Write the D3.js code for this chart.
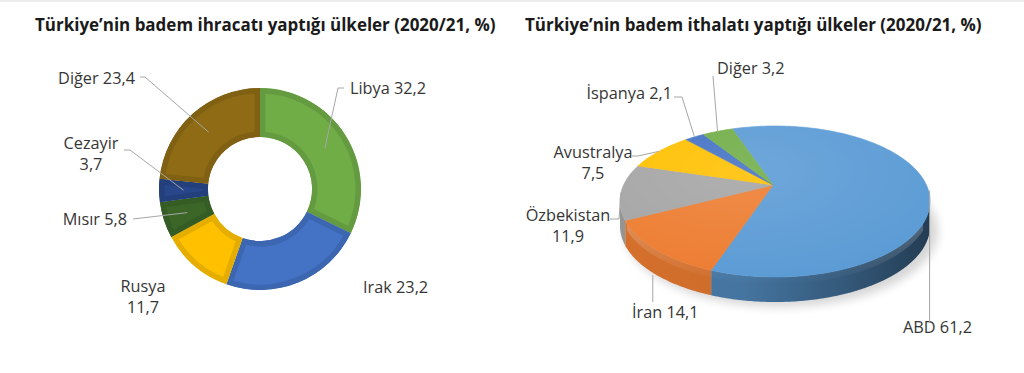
<!DOCTYPE html>
<html><head><meta charset="utf-8">
<script src="https://cdn.jsdelivr.net/npm/d3@7"></script>
<style>body{margin:0;background:#fff} svg{display:block}</style>
</head><body>
<svg id="c" width="1024" height="373"></svg>
<script>
// ---------- data ----------
const titles = ["Türkiye\u2019nin badem ihracatı yaptığı ülkeler (2020/21, %)",
                "Türkiye\u2019nin badem ithalatı yaptığı ülkeler (2020/21, %)"];
const exportCategories = ["Libya","Irak","Rusya","Mısır","Cezayir","Diğer"];
const exportValues     = [32.2, 23.2, 11.7, 5.8, 3.7, 23.4];
const exportColors     = ["#70AD47","#4472C4","#FFC000","#3B6628","#27478A","#8E6B14"];
const importCategories = ["ABD","İran","Özbekistan","Avustralya","İspanya","Diğer"];
const importValues     = [61.2, 14.1, 11.9, 7.5, 2.1, 3.2];
const importColors     = ["#5B9BD5","#ED7D31","#A5A5A5","#FFC000","#4472C4","#70AD47"];

const fmt = v => String(v).replace(".", ",");
const svg = d3.select("#c");
const FONT = "'Open Sans', sans-serif";
const TEXT = "#363636", LEAD = "#A6A6A6";

svg.append("rect").attr("x",0).attr("y",0).attr("width",1024).attr("height",2).attr("fill","#ececec");

function fitSize(str, weight, target){
  const t = svg.append("text").attr("font-family",FONT).attr("font-weight",weight).attr("font-size",20).text(str);
  const w = t.node().getComputedTextLength(); t.remove();
  return 20*target/w;
}
const titleSize = Math.min(fitSize(titles[0], "bold", 462), fitSize(titles[1], "bold", 457));
const labelSize = fitSize("Diğer 23,4", "normal", 77);

[[35,titles[0]],[525,titles[1]]].forEach(([x,t])=>{
  svg.append("text").attr("x",x).attr("y",31).attr("font-family",FONT).attr("font-weight","bold")
    .attr("font-size",titleSize).attr("fill","#1a1a1a").text(t);
});

function label(lines, x, y, anchor){
  const t = svg.append("text").attr("font-family",FONT).attr("font-size",labelSize)
    .attr("fill",TEXT).attr("text-anchor",anchor).attr("dominant-baseline","central");
  lines.forEach((l,i)=>t.append("tspan").attr("x",x).attr("y",y+i*21).text(l));
}
function leader(pts){
  svg.append("path").attr("d", d3.line()(pts)).attr("fill","none").attr("stroke",LEAD).attr("stroke-width",1);
}

// ---------- left: donut ----------
const D = {cx:260, cy:189, r0:52, r1:101};
const defs = svg.append("defs");
const pieL = d3.pie().sort(null).value(d=>d)(exportValues);
const arcL = d3.arc().innerRadius(D.r0).outerRadius(D.r1);
const gL = svg.append("g").attr("transform",`translate(${D.cx},${D.cy})`);
pieL.forEach((p,i)=>{
  defs.append("clipPath").attr("id","cl"+i).append("path").attr("d",arcL(p));
  gL.append("path").attr("d",arcL(p)).attr("fill",exportColors[i])
    .attr("stroke",d3.color(exportColors[i]).darker(0.3)).attr("stroke-width",11)
    .attr("clip-path",`url(#cl${i})`);
});
const cen = i => { const c = arcL.centroid(pieL[i]); return [c[0]+D.cx, c[1]+D.cy]; };
const leftLayout = [
  {x:350, y:88,  a:"start",  two:false, lead:[[344,88],[338,88]]},
  {x:363, y:287, a:"start",  two:false, lead:null},
  {x:143, y:286, a:"middle", two:true,  lead:null},
  {x:127, y:219, a:"end",    two:false, lead:[[133,219]]},
  {x:91,  y:143, a:"middle", two:true,  lead:[[124,150],[130,150]]},
  {x:135, y:78,  a:"end",    two:false, lead:[[140,77],[145,77]]}
];
leftLayout.forEach((L,i)=>{
  const lines = L.two ? [exportCategories[i], fmt(exportValues[i])] : [exportCategories[i]+" "+fmt(exportValues[i])];
  label(lines, L.x, L.y, L.a);
  if (L.lead) leader([...L.lead, cen(i)]);
});

// ---------- right: 3D pie ----------
const P = {cx:775, cy:201, rx:155, ryT:75, ryB:76, depth:25, vx:-2, vy:-16, rot:-16*Math.PI/180};
function rimP(p, dy=0){
  const c = Math.cos(p);
  return [P.cx + P.rx*Math.sin(p), P.cy - (c>0?P.ryT:P.ryB)*c + dy];
}
function ptsP(p0,p1,dy){
  const n = Math.max(2, Math.ceil(Math.abs(p1-p0)/0.015));
  return d3.range(n+1).map(k=>rimP(p0+(p1-p0)*k/n, dy));
}
const pieR = d3.pie().sort(null).value(d=>d)(importValues);
const vtx = [P.cx+P.vx, P.cy+P.vy];

const fl = defs.append("filter").attr("id","blur").attr("x","-20%").attr("y","-20%").attr("width","140%").attr("height","140%");
fl.append("feGaussianBlur").attr("stdDeviation",5);
svg.append("ellipse").attr("cx",P.cx+6).attr("cy",P.cy+P.depth+5).attr("rx",P.rx+2).attr("ry",P.ryB)
  .attr("fill","#000").attr("opacity",0.16).attr("filter","url(#blur)");

const lo = Math.PI/2, hi = 3*Math.PI/2;
const gS = svg.append("g");
pieR.forEach((s,i)=>{
  const p0 = Math.max(s.startAngle+P.rot, lo), p1 = Math.min(s.endAngle+P.rot, hi);
  if (p1 <= p0) return;
  const pts = ptsP(p0,p1,0).concat(ptsP(p1,p0,P.depth));
  gS.append("path").attr("d", d3.line()(pts)+"Z").attr("fill", d3.color(importColors[i]).darker(i===0?0.7:0.3));
});
const sg = defs.append("linearGradient").attr("id","sideG").attr("gradientUnits","userSpaceOnUse")
  .attr("x1",P.cx-P.rx).attr("x2",P.cx+P.rx).attr("y1",0).attr("y2",0);
[[0,0.0],[0.4,0.04],[0.7,0.25],[1,0.5]].forEach(([o,a])=>sg.append("stop").attr("offset",o).attr("stop-color","#000").attr("stop-opacity",a));
gS.append("path").attr("d", d3.line()(ptsP(lo,hi,0).concat(ptsP(hi,lo,P.depth)))+"Z").attr("fill","url(#sideG)");
const hg = defs.append("linearGradient").attr("id","hiG").attr("x1",0).attr("x2",0).attr("y1",0).attr("y2",1);
[[0,0.22],[1,0]].forEach(([o,a])=>hg.append("stop").attr("offset",o).attr("stop-color","#fff").attr("stop-opacity",a));
gS.append("path").attr("d", d3.line()(ptsP(lo+0.3,hi-0.3,0).concat(ptsP(hi-0.3,lo+0.3,7)))+"Z").attr("fill","url(#hiG)");

pieR.forEach((s,i)=>{
  const pts = [vtx].concat(ptsP(s.startAngle+P.rot, s.endAngle+P.rot, 0));
  svg.append("path").attr("d", d3.line()(pts)+"Z").attr("fill", importColors[i])
    .attr("stroke", importColors[i]).attr("stroke-width",0.6);
});
const tg = defs.append("radialGradient").attr("id","topG").attr("cx","40%").attr("cy","30%").attr("r","75%");
[[0,0.12],[1,0]].forEach(([o,a])=>tg.append("stop").attr("offset",o).attr("stop-color","#fff").attr("stop-opacity",a));
svg.append("path").attr("d", d3.line()(ptsP(0,2*Math.PI,0))+"Z").attr("fill","url(#topG)");

const mid = i => (pieR[i].startAngle+pieR[i].endAngle)/2 + P.rot;
const rightLayout = [
  {x:903, y:327, a:"start",  two:false, lead:"vdown", ly:322},
  {x:632, y:312, a:"start",  two:false, lead:"vside", ly:302},
  {x:568, y:215, a:"middle", two:true,  lead:[[610,219],[619,219]]},
  {x:593, y:152, a:"middle", two:true,  lead:[[632,156],[638,156]]},
  {x:672, y:93,  a:"end",    two:false, lead:[[674,97],[682,97]]},
  {x:717, y:68,  a:"start",  two:false, lead:[[713,76]]}
];
rightLayout.forEach((L,i)=>{
  const lines = L.two ? [importCategories[i], fmt(importValues[i])] : [importCategories[i]+" "+fmt(importValues[i])];
  label(lines, L.x, L.y, L.a);
  const r = rimP(mid(i), 0);
  if (L.lead === "vdown") leader([[r[0],L.ly],[r[0],r[1]-16]]);
  else if (L.lead === "vside") leader([[r[0]-4,L.ly],[r[0]-4,r[1]+P.depth]]);
  else leader([...L.lead, r]);
});
</script>
</body></html>
